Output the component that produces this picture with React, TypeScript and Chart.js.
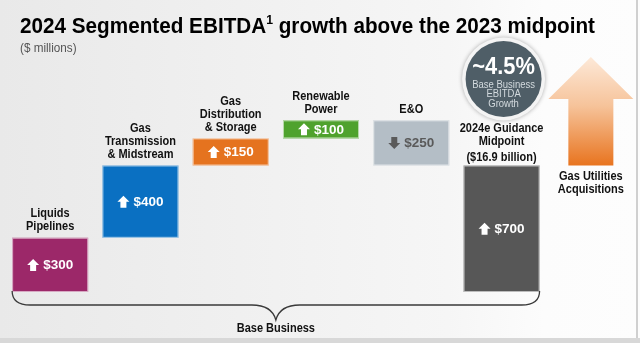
import React, { useEffect, useRef } from "react";
import { Chart, registerables } from "chart.js";

Chart.register(...registerables);

// ---------- data ----------
const categories = [
  "Liquids Pipelines",
  "Gas Transmission & Midstream",
  "Gas Distribution & Storage",
  "Renewable Power",
  "E&O",
  "2024e Guidance Midpoint ($16.9 billion)",
  "Gas Utilities Acquisitions",
];
const categoryLines = [
  ["Liquids", "Pipelines"],
  ["Gas", "Transmission", "& Midstream"],
  ["Gas", "Distribution", "& Storage"],
  ["Renewable", "Power"],
  ["E&O"],
  ["2024e Guidance", "Midpoint", "($16.9 billion)"],
  ["Gas Utilities", "Acquisitions"],
];
const changes = [300, 400, 150, 100, -250];
const guidanceTotal = 700;
const valueLabels = ["$300", "$400", "$150", "$100", "$250", "$700"];
const barColors = ["#9c2869", "#0a70c2", "#e5731f", "#4fa22d", "#b4bec6", "#575757"];
const valueTextColors = ["#ffffff", "#ffffff", "#ffffff", "#ffffff", "#5a5a5a", "#ffffff"];
const acquisitionRange = [700, 1300];
const growthLabel = "~4.5%";
const growthLines = ["Base Business", "EBITDA", "Growth"];
const titleMain = "2024 Segmented EBITDA";
const titleSup = "1";
const titleRest = " growth above the 2023 midpoint";
const subtitle = "($ millions)";
const braceLabel = "Base Business";

const FONT = '"Liberation Sans", Arial, sans-serif';

function txt(ctx: any, s: string, x: number, y: number, font: string, color: string, sx = 1, align = "center") {
  ctx.save();
  ctx.font = font;
  ctx.fillStyle = color;
  ctx.textBaseline = "middle";
  ctx.textAlign = align;
  ctx.translate(x, y);
  ctx.scale(sx, 1);
  ctx.fillText(s, 0, 0);
  ctx.restore();
}

function drawIcon(ctx: any, x: number, y: number, up: boolean, color: string) {
  ctx.save();
  ctx.fillStyle = color;
  ctx.translate(x, y);
  if (!up) ctx.scale(1, -1);
  ctx.beginPath();
  ctx.moveTo(0, -6);
  ctx.lineTo(6, 0);
  ctx.lineTo(3, 0);
  ctx.lineTo(3, 6);
  ctx.lineTo(-3, 6);
  ctx.lineTo(-3, 0);
  ctx.lineTo(-6, 0);
  ctx.closePath();
  ctx.fill();
  ctx.restore();
}

const decoPlugin = {
  id: "deco",
  beforeDraw(chart: any) {
    const ctx = chart.ctx;
    const W = chart.width;
    const H = chart.height;
    ctx.save();
    const g = ctx.createLinearGradient(0, 0, W, 0);
    g.addColorStop(0, "#e9e9e9");
    g.addColorStop(0.7, "#f6f6f6");
    g.addColorStop(0.85, "#fcfcfc");
    g.addColorStop(1, "#fdfdfd");
    ctx.fillStyle = g;
    ctx.fillRect(0, 0, W, H);
    ctx.fillStyle = "#d8d8d8";
    ctx.fillRect(0, 338, W, H - 338);
    ctx.fillStyle = "#d0d0d0";
    ctx.fillRect(636, 0, 2, 338);
    ctx.restore();
  },
  afterDatasetsDraw(chart: any) {
    const ctx = chart.ctx;
    const meta = chart.getDatasetMeta(0);
    const xs = chart.scales.x;
    const ys = chart.scales.y;
    const catFont = `bold 12.5px ${FONT}`;
    const catSx = 0.88;

    // bars: thin light edge, value labels and category labels
    for (let i = 0; i < valueLabels.length; i++) {
      const el = meta.data[i];
      const cx = el.x;
      const top = Math.min(el.y, el.base);
      const bottom = Math.max(el.y, el.base);
      const mid = (top + bottom) / 2;
      const up = i < changes.length ? changes[i] >= 0 : true;

      ctx.save();
      ctx.strokeStyle = "rgba(255,255,255,0.6)";
      ctx.lineWidth = 1;
      ctx.strokeRect(cx - el.width / 2 + 0.5, top + 0.5, el.width - 1, bottom - top - 1);
      ctx.restore();

      ctx.save();
      ctx.font = `bold 13.5px ${FONT}`;
      const tw = ctx.measureText(valueLabels[i]).width;
      ctx.restore();
      const gw = 12 + 4 + tw;
      const start = cx - gw / 2;
      drawIcon(ctx, start + 6, mid, up, valueTextColors[i]);
      txt(ctx, valueLabels[i], start + 16, mid + 0.5, `bold 13.5px ${FONT}`, valueTextColors[i], 1, "left");

      const lines = categoryLines[i];
      const n = lines.length;
      for (let k = 0; k < n; k++) {
        let y = top - 11 - (n - 1 - k) * 13;
        if (i === 5 && k === n - 1) y += 3;
        txt(ctx, lines[k], cx, y, catFont, "#111111", catSx);
      }
    }

    // acquisitions arrow
    const ax = xs.getPixelForValue(6) - 1;
    const tipY = ys.getPixelForValue(acquisitionRange[1]);
    const baseY = ys.getPixelForValue(acquisitionRange[0]);
    const headH = 42;
    ctx.save();
    const ag = ctx.createLinearGradient(0, tipY, 0, baseY);
    ag.addColorStop(0, "#fde9d8");
    ag.addColorStop(0.45, "#f6c39a");
    ag.addColorStop(1, "#e8741f");
    ctx.fillStyle = ag;
    ctx.beginPath();
    ctx.moveTo(ax, tipY);
    ctx.lineTo(ax + 42.5, tipY + headH);
    ctx.lineTo(ax + 22.5, tipY + headH);
    ctx.lineTo(ax + 22.5, baseY);
    ctx.lineTo(ax - 22.5, baseY);
    ctx.lineTo(ax - 22.5, tipY + headH);
    ctx.lineTo(ax - 42.5, tipY + headH);
    ctx.closePath();
    ctx.fill();
    ctx.restore();
    const aLines = categoryLines[6];
    aLines.forEach((s, k) => txt(ctx, s, ax, baseY + 11 + k * 13, catFont, "#111111", catSx));

    // brace
    const first = meta.data[0];
    const last = meta.data[5];
    const L = first.x - first.width / 2;
    const R = last.x + last.width / 2;
    const base = ys.getPixelForValue(0);
    const m = (L + R) / 2;
    const by = base + 13;
    ctx.save();
    ctx.strokeStyle = "#3a3a3a";
    ctx.lineWidth = 1.3;
    ctx.beginPath();
    ctx.moveTo(L, base - 1);
    ctx.quadraticCurveTo(L, by, L + 18, by);
    ctx.lineTo(m - 24, by);
    ctx.quadraticCurveTo(m - 4, by, m, base + 28);
    ctx.quadraticCurveTo(m + 4, by, m + 24, by);
    ctx.lineTo(R - 18, by);
    ctx.quadraticCurveTo(R, by, R, base - 1);
    ctx.stroke();
    ctx.restore();
    txt(ctx, braceLabel, m, base + 37, catFont, "#111111", catSx);

    // growth circle
    const ccx = last.x + 2;
    const ccy = 79;
    ctx.save();
    ctx.shadowColor = "rgba(0,0,0,0.3)";
    ctx.shadowBlur = 4;
    ctx.beginPath();
    ctx.arc(ccx, ccy, 41.5, 0, Math.PI * 2);
    ctx.fillStyle = "#f4f4f4";
    ctx.fill();
    ctx.restore();
    ctx.save();
    ctx.beginPath();
    ctx.arc(ccx, ccy, 38, 0, Math.PI * 2);
    ctx.fillStyle = "#4f5e67";
    ctx.fill();
    ctx.restore();
    txt(ctx, growthLabel, ccx, ccy - 11, `bold 23px ${FONT}`, "#ffffff", 0.95);
    growthLines.forEach((s, k) => txt(ctx, s, ccx, ccy + 6 + k * 9.5, `10px ${FONT}`, "#d3dade", 0.95));

    // title
    ctx.save();
    const tFont = `bold 22px ${FONT}`;
    const sFont = `bold 13px ${FONT}`;
    ctx.font = tFont;
    const w1 = ctx.measureText(titleMain).width;
    const w3 = ctx.measureText(titleRest).width;
    ctx.font = sFont;
    const w2 = ctx.measureText(titleSup).width;
    const total = w1 + w2 + w3;
    const sx = 575 / total;
    ctx.translate(20, 0);
    ctx.scale(sx, 1);
    ctx.fillStyle = "#000000";
    ctx.textBaseline = "alphabetic";
    ctx.textAlign = "left";
    ctx.font = tFont;
    ctx.fillText(titleMain, 0, 33);
    ctx.font = sFont;
    ctx.fillText(titleSup, w1, 24);
    ctx.font = tFont;
    ctx.fillText(titleRest, w1 + w2, 33);
    ctx.restore();
    txt(ctx, subtitle, 20, 48, `13px ${FONT}`, "#555555", 0.9, "left");
  },
};

export default function App() {
  const ref = useRef<HTMLCanvasElement | null>(null);
  useEffect(() => {
    if (!ref.current) return;
    let run = 0;
    const floating: any[] = changes.map((c) => {
      const s = run;
      run += c;
      return [Math.min(s, run), Math.max(s, run)];
    });
    floating.push([0, guidanceTotal]);
    floating.push(null);
    const chart = new Chart(ref.current, {
      type: "bar",
      data: {
        labels: categories,
        datasets: [
          {
            data: floating,
            backgroundColor: [...barColors, "rgba(0,0,0,0)"],
            borderWidth: 0,
            barPercentage: 0.842,
            categoryPercentage: 1,
          },
        ],
      },
      options: {
        responsive: false,
        animation: false,
        devicePixelRatio: 1,
        layout: { padding: { left: 5, right: 3, top: 39, bottom: 51 } },
        plugins: { legend: { display: false }, tooltip: { enabled: false }, title: { display: false } },
        scales: {
          x: { display: false },
          y: { display: false, min: 0, max: 1400 },
        },
      },
      plugins: [decoPlugin],
    });
    return () => chart.destroy();
  }, []);
  return (
    <div style={{ position: "absolute", left: 0, top: 0, width: 640, height: 343 }}>
      <canvas ref={ref} width={640} height={343} />
    </div>
  );
}
